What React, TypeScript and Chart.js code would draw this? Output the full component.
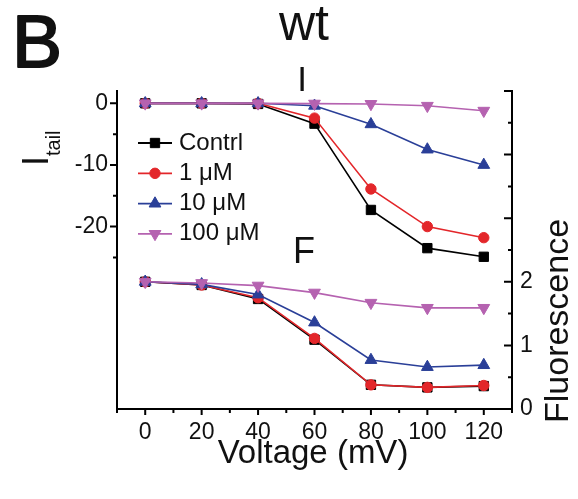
import React, { useEffect, useRef } from "react";
import { Chart, registerables } from "chart.js";

Chart.register(...registerables);

const voltages = [0, 20, 40, 60, 80, 100, 120];

// Tail current (upper "I" panel, left axis)
const iContrl = [0, 0, -0.1, -3.3, -17.3, -23.5, -24.9];
const i1uM = [0, 0, 0, -2.4, -13.9, -20.0, -21.8];
const i10uM = [0, 0, 0, -0.4, -3.4, -7.5, -10.0];
const i100uM = [0, 0, 0, -0.05, -0.1, -0.4, -1.2];

// Fluorescence (lower "F" panel, right axis)
const fContrl = [2.0, 1.95, 1.73, 1.09, 0.38, 0.34, 0.36];
const f1uM = [2.0, 1.95, 1.75, 1.11, 0.38, 0.34, 0.37];
const f10uM = [2.0, 1.96, 1.8, 1.36, 0.77, 0.66, 0.69];
const f100uM = [2.0, 1.98, 1.94, 1.83, 1.67, 1.59, 1.59];

const seriesNames = ["Contrl", "1 \u03BCM", "10 \u03BCM", "100 \u03BCM"];
const xTickLabels = [0, 20, 40, 60, 80, 100, 120];
const xMinorTicks = [-10, 10, 30, 50, 70, 90, 110, 130];
const leftTickLabels = [0, -10, -20];
const leftMinorTicks = [-5, -15, -25];
const rightMajorTicks = [0, 1, 2, 3, 4, 5];
const rightMinorTicks = [0.5, 1.5, 2.5, 3.5, 4.5];
const rightTickLabels = [0, 1, 2];

const colors = ["#000000", "#e3262a", "#2a3f98", "#b562b0"];
const styles = ["rect", "circle", "triangle", "triangle"];
const rotations = [0, 0, 0, 180];
const radii = [6.6, 5.2, 6.8, 6.8];

const FONT = "'Liberation Sans', Arial, Helvetica, sans-serif";

function drawMarker(ctx: CanvasRenderingContext2D, i: number, x: number, y: number) {
  const r = radii[i];
  ctx.save();
  ctx.fillStyle = colors[i];
  ctx.strokeStyle = colors[i];
  ctx.lineWidth = 1;
  ctx.beginPath();
  if (styles[i] === "rect") {
    const s = Math.SQRT1_2 * r;
    ctx.rect(x - s, y - s, 2 * s, 2 * s);
  } else if (styles[i] === "circle") {
    ctx.arc(x, y, r, 0, Math.PI * 2);
  } else {
    let rad = (rotations[i] * Math.PI) / 180;
    ctx.moveTo(x + Math.sin(rad) * r, y - Math.cos(rad) * r);
    rad += (2 * Math.PI) / 3;
    ctx.lineTo(x + Math.sin(rad) * r, y - Math.cos(rad) * r);
    rad += (2 * Math.PI) / 3;
    ctx.lineTo(x + Math.sin(rad) * r, y - Math.cos(rad) * r);
    ctx.closePath();
  }
  ctx.fill();
  ctx.stroke();
  ctx.restore();
}

const decorPlugin = {
  id: "decor",
  afterDraw(chart: any) {
    const ctx: CanvasRenderingContext2D = chart.ctx;
    const { left, right, top, bottom } = chart.chartArea;
    const xs = chart.scales.x;
    const ys = chart.scales.y;
    const ys2 = chart.scales.y2;
    ctx.save();
    ctx.strokeStyle = "#000";
    ctx.lineWidth = 2;
    ctx.lineCap = "butt";
    // axis lines
    ctx.beginPath();
    ctx.moveTo(left, top - 1);
    ctx.lineTo(left, bottom);
    ctx.lineTo(right, bottom);
    ctx.lineTo(right, top - 1);
    ctx.stroke();
    // x ticks
    ctx.beginPath();
    xTickLabels.forEach((v) => {
      const px = xs.getPixelForValue(v);
      ctx.moveTo(px, bottom);
      ctx.lineTo(px, bottom + 6);
    });
    xMinorTicks.forEach((v) => {
      const px = xs.getPixelForValue(v);
      ctx.moveTo(px, bottom);
      ctx.lineTo(px, bottom + 4);
    });
    // left ticks (outward)
    leftTickLabels.forEach((v) => {
      const py = ys.getPixelForValue(v);
      ctx.moveTo(left, py);
      ctx.lineTo(left - 7, py);
    });
    leftMinorTicks.forEach((v) => {
      const py = ys.getPixelForValue(v);
      ctx.moveTo(left, py);
      ctx.lineTo(left - 4, py);
    });
    // right ticks (inward)
    rightMajorTicks.forEach((v) => {
      const py = ys2.getPixelForValue(v);
      ctx.moveTo(right, py);
      ctx.lineTo(right - 8, py);
    });
    rightMinorTicks.forEach((v) => {
      const py = ys2.getPixelForValue(v);
      ctx.moveTo(right, py);
      ctx.lineTo(right - 4, py);
    });
    ctx.stroke();

    ctx.fillStyle = "#111";
    ctx.textBaseline = "alphabetic";
    // Panel letter
    ctx.font = `75px ${FONT}`;
    ctx.textAlign = "left";
    ctx.fillText("B", 12, 66.5);
    ctx.strokeStyle = "#111";
    ctx.lineWidth = 2;
    ctx.lineJoin = "round";
    ctx.strokeText("B", 12, 66.5);
    // title
    ctx.font = `50px ${FONT}`;
    ctx.textAlign = "center";
    ctx.fillText("wt", 304, 40);
    // I and F labels
    ctx.font = `35px ${FONT}`;
    ctx.fillText("I", 302, 91);
    ctx.textAlign = "left";
    ctx.font = `36px ${FONT}`;
    ctx.fillText("F", 293, 263);
    // x title
    ctx.textAlign = "center";
    ctx.font = `33px ${FONT}`;
    ctx.fillText("Voltage (mV)", 313, 463);
    // right title
    ctx.save();
    ctx.translate(568, 423);
    ctx.rotate(-Math.PI / 2);
    ctx.textAlign = "left";
    ctx.font = `34px ${FONT}`;
    ctx.fillText("Fluorescence", 0, 0);
    ctx.restore();
    // left title I_tail
    ctx.save();
    ctx.translate(48, 161);
    ctx.rotate(-Math.PI / 2);
    ctx.textAlign = "center";
    ctx.font = `36px ${FONT}`;
    ctx.fillText("I", 0, 0);
    ctx.textAlign = "left";
    ctx.font = `20px ${FONT}`;
    ctx.fillText("tail", 5, 12);
    ctx.restore();

    // legend
    ctx.font = `24px ${FONT}`;
    ctx.textAlign = "left";
    seriesNames.forEach((name, i) => {
      const base = 149.5 + 30.3 * i;
      const ly = base - 6.5;
      ctx.strokeStyle = colors[i];
      ctx.lineWidth = 1.8;
      ctx.beginPath();
      ctx.moveTo(138, ly);
      ctx.lineTo(172, ly);
      ctx.stroke();
      drawMarker(ctx, i, 155, ly);
      ctx.fillStyle = "#111";
      ctx.fillText(name, 179, base);
    });
    ctx.restore();
  },
};

export default function App() {
  const canvasRef = useRef<HTMLCanvasElement | null>(null);

  useEffect(() => {
    if (!canvasRef.current) return;
    const iSeries = [iContrl, i1uM, i10uM, i100uM];
    const fSeries = [fContrl, f1uM, f10uM, f100uM];
    const mk = (vals: number[], i: number, axis: string) => ({
      label: seriesNames[i],
      data: voltages.map((v, k) => ({ x: v, y: vals[k] })),
      yAxisID: axis,
      borderColor: colors[i],
      backgroundColor: colors[i],
      borderWidth: 1.6,
      pointStyle: styles[i],
      pointRotation: rotations[i],
      pointRadius: radii[i],
      pointBorderWidth: 1,
      pointBorderColor: colors[i],
      pointBackgroundColor: colors[i],
      order: 4 - i,
      tension: 0,
      fill: false,
    });
    const datasets: any[] = [];
    iSeries.forEach((s, i) => datasets.push(mk(s, i, "y")));
    fSeries.forEach((s, i) => datasets.push(mk(s, i, "y2")));

    const tickFont = { family: FONT, size: 23 };
    const chart = new Chart(canvasRef.current, {
      type: "line",
      data: { datasets },
      options: {
        animation: false,
        responsive: false,
        devicePixelRatio: 1,
        layout: { padding: { top: 91, left: 0, right: 0, bottom: 0 } },
        plugins: { legend: { display: false }, tooltip: { enabled: false }, title: { display: false } },
        scales: {
          x: {
            type: "linear",
            position: "bottom",
            min: -10,
            max: 130,
            afterBuildTicks: (s: any) => {
              s.ticks = xTickLabels.map((v) => ({ value: v }));
            },
            afterFit: (s: any) => {
              s.height = 90;
            },
            ticks: { font: tickFont, color: "#111", padding: 10, maxRotation: 0, autoSkip: false },
            grid: { display: false, drawTicks: false },
            border: { display: false },
          },
          y: {
            type: "linear",
            position: "left",
            min: -49.6,
            max: 2,
            afterBuildTicks: (s: any) => {
              s.ticks = leftTickLabels.map((v) => ({ value: v }));
            },
            afterFit: (s: any) => {
              s.width = 117;
            },
            ticks: { font: tickFont, color: "#111", padding: 9, autoSkip: false },
            grid: { display: false, drawTicks: false },
            border: { display: false },
          },
          y2: {
            type: "linear",
            position: "right",
            min: 0,
            max: 5,
            afterBuildTicks: (s: any) => {
              s.ticks = rightTickLabels.map((v) => ({ value: v }));
            },
            afterFit: (s: any) => {
              s.width = 66;
            },
            ticks: { font: tickFont, color: "#111", padding: 8, autoSkip: false },
            grid: { display: false, drawTicks: false },
            border: { display: false },
          },
        },
      } as any,
      plugins: [decorPlugin],
    });
    return () => chart.destroy();
  }, []);

  return (
    <div style={{ position: "absolute", left: 0, top: 0, width: 578, height: 499, background: "#fff" }}>
      <canvas ref={canvasRef} width={578} height={499} style={{ display: "block" }} />
    </div>
  );
}
